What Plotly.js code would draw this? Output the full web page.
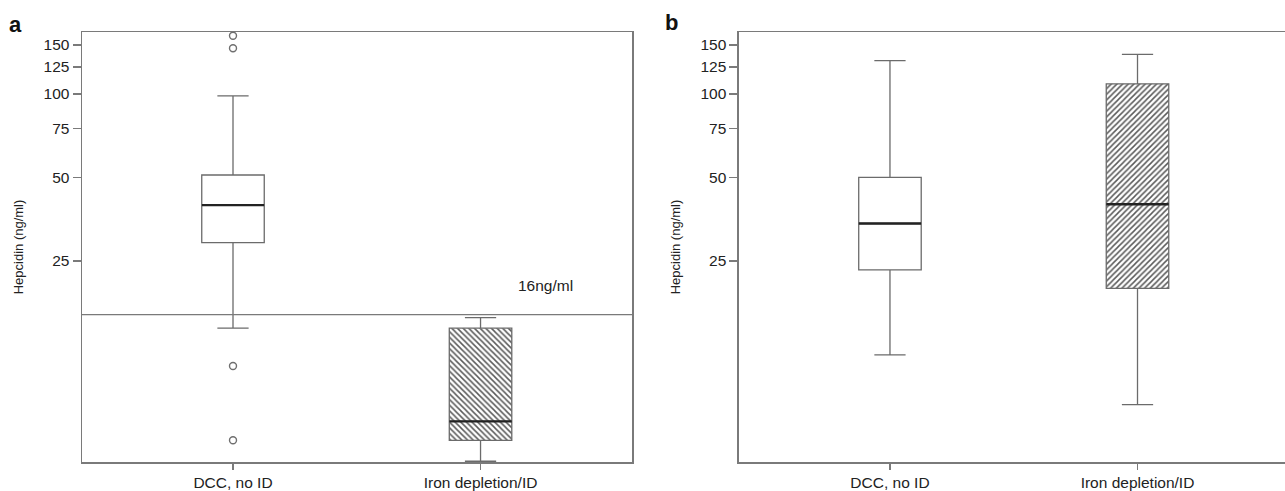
<!DOCTYPE html>
<html>
<head>
<meta charset="utf-8">
<script src="https://cdn.plot.ly/plotly-3.0.1.min.js"></script>
<style>
html,body{margin:0;padding:0;overflow:hidden;background:#fff;}
#chart{width:1290px;height:491px;}
</style>
</head>
<body>
<div id="chart"></div>
<script>
// ---- data ----
var categories = ['DCC, no ID', 'Iron depletion/ID'];

// Panel a
var aLower  = [14.3, 4.74];
var aQ1     = [29.1, 5.64];
var aMedian = [39.7, 6.6];
var aQ3     = [51.0, 14.3];
var aUpper  = [98.4, 15.6];
var aOutlierX = ['DCC, no ID', 'DCC, no ID', 'DCC, no ID', 'DCC, no ID'];
var aOutlierY = [162, 146, 10.45, 5.64];
var threshold = 16;

// Panel b
var bLower  = [11.45, 7.58];
var bQ1     = [23.2, 19.9];
var bMedian = [34.1, 40.0];
var bQ3     = [50.0, 108.7];
var bUpper  = [131.7, 138.8];

var yTickVals = [25, 50, 75, 100, 125, 150];
var yTickText = ['25', '50', '75', '100', '125', '150'];

// ---- styling ----
var boxW = 0.2525;
var lineCol = '#6b6b6b';
var frameCol = '#7a7a7a';
var tickSize = 15.5;

function hatchBar(idx, q1, q3, shape, xa, ya) {
  return {
    type: 'bar', x: [categories[idx]], base: [q1[idx]], y: [q3[idx] - q1[idx]],
    width: boxW, xaxis: xa, yaxis: ya, hoverinfo: 'skip',
    marker: {color: '#ffffff', line: {width: 0},
      pattern: {shape: shape, fgcolor: '#5a5a5a', bgcolor: '#ffffff', size: 4, solidity: 0.38}}
  };
}
function boxTrace(lo, q1, med, q3, up, xa, ya) {
  return {
    type: 'box', x: categories, lowerfence: lo, q1: q1, median: med, q3: q3, upperfence: up,
    width: boxW, whiskerwidth: 0.5, boxpoints: false, xaxis: xa, yaxis: ya,
    fillcolor: 'rgba(0,0,0,0)', line: {color: lineCol, width: 1.3}
  };
}
function medianTrace(med, xa, ya) {
  return {
    type: 'scatter', mode: 'markers', x: categories, y: med, xaxis: xa, yaxis: ya,
    hoverinfo: 'skip',
    marker: {symbol: 'line-ew', size: 44.5, color: '#222222', line: {color: '#222222', width: 2.4}}
  };
}

var traces = [
  hatchBar(1, aQ1, aQ3, '\\', 'x', 'y'),
  boxTrace(aLower, aQ1, aMedian, aQ3, aUpper, 'x', 'y'),
  medianTrace(aMedian, 'x', 'y'),
  {type: 'scatter', mode: 'markers', x: aOutlierX, y: aOutlierY, xaxis: 'x', yaxis: 'y',
   marker: {symbol: 'circle-open', size: 7, color: '#6f6f6f', line: {width: 1.4}}},
  hatchBar(1, bQ1, bQ3, '/', 'x2', 'y2'),
  boxTrace(bLower, bQ1, bMedian, bQ3, bUpper, 'x2', 'y2'),
  medianTrace(bMedian, 'x2', 'y2')
];

function xAxis(domain, anchor) {
  return {
    domain: domain, anchor: anchor, type: 'category', categoryorder: 'array', categoryarray: categories,
    range: [-0.61, 1.612], showline: true, mirror: true, linecolor: frameCol, linewidth: 1.5,
    ticks: 'outside', ticklen: 6, tickcolor: frameCol, tickwidth: 1.3,
    tickfont: {size: tickSize, color: '#222'}, showgrid: false, zeroline: false, fixedrange: true
  };
}
function yAxis(anchor) {
  return {
    anchor: anchor, type: 'log', range: [0.673, 2.223], tickvals: yTickVals, ticktext: yTickText,
    showline: true, mirror: true, linecolor: frameCol, linewidth: 1.5,
    ticks: 'outside', ticklen: 8, tickcolor: frameCol, tickwidth: 1.3,
    tickfont: {size: tickSize, color: '#222'}, showgrid: false, zeroline: false, fixedrange: true,
    title: {text: 'Hepcidin (ng/ml)', font: {size: 13, color: '#222'}, standoff: 17}
  };
}

var layout = {
  width: 1290, height: 491,
  margin: {l: 82, r: 1, t: 32, b: 29},
  showlegend: false, boxmode: 'overlay', barmode: 'overlay',
  paper_bgcolor: '#ffffff', plot_bgcolor: '#ffffff',
  font: {family: 'Liberation Sans, Arial, sans-serif', color: '#222'},
  xaxis: xAxis([0, 0.4557], 'y'),
  yaxis: yAxis('x'),
  xaxis2: xAxis([0.5443, 1], 'y2'),
  yaxis2: yAxis('x2'),
  shapes: [{type: 'line', xref: 'x domain', yref: 'y', x0: 0, x1: 1, y0: threshold, y1: threshold,
            line: {color: frameCol, width: 1.3}}],
  annotations: [
    {text: threshold + 'ng/ml', xref: 'x domain', yref: 'y', x: 0.8418, y: Math.log10(threshold),
     xanchor: 'center', yanchor: 'middle', yshift: 29, showarrow: false, font: {size: tickSize, color: '#222'}},
    {text: '<b>a</b>', xref: 'paper', yref: 'paper', x: -0.0547, y: 1.0186, xanchor: 'center', yanchor: 'middle',
     showarrow: false, font: {size: 22, color: '#111'}},
    {text: '<b>b</b>', xref: 'paper', yref: 'paper', x: 0.4888, y: 1.023, xanchor: 'center', yanchor: 'middle',
     showarrow: false, font: {size: 22, color: '#111'}}
  ]
};

Plotly.newPlot('chart', traces, layout, {displayModeBar: false, staticPlot: true});
</script>
</body>
</html>
